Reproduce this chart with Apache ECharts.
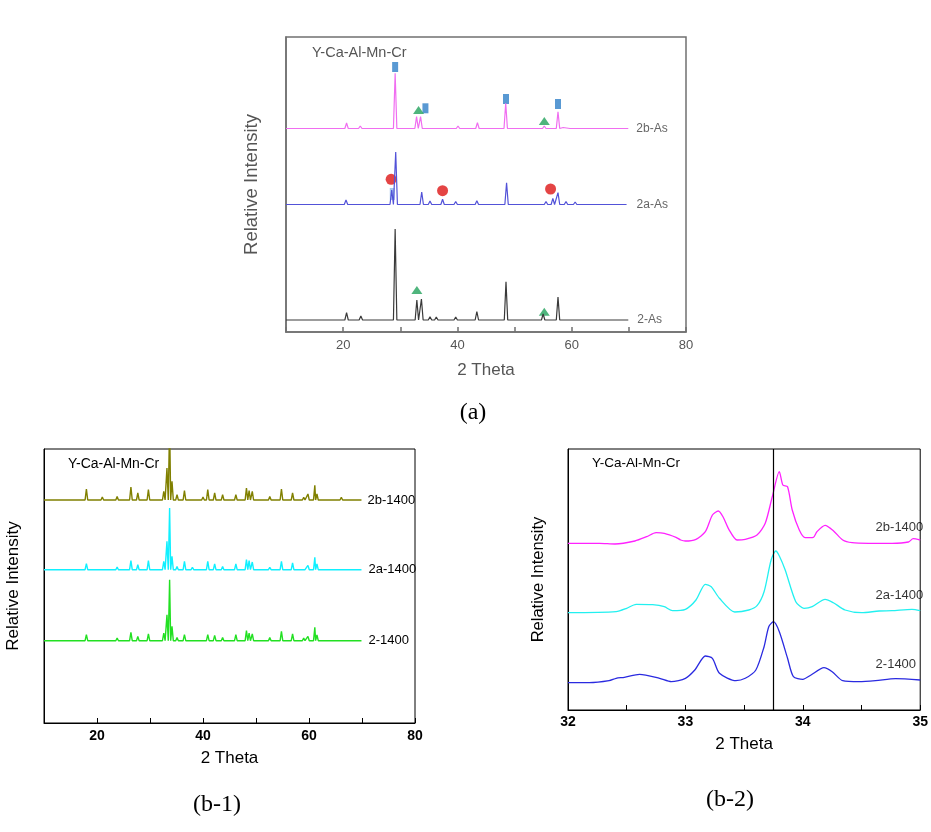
<!DOCTYPE html>
<html>
<head>
<meta charset="utf-8">
<script src="https://cdn.jsdelivr.net/npm/echarts@6/dist/echarts.min.js"></script>
<style>
html,body{margin:0;padding:0;background:#fff;}
#chart{width:931px;height:832px;}
</style>
</head>
<body>
<div id="chart"></div>
<script>
// ---------- Panel (a): peaks [2theta, intensity] ----------
const aBase = {"2-As": 12, "2a-As": 127.5, "2b-As": 203.5};
const a_2 = [[20.6,19.3],[23.1,16],[25.6,14],[29.1,103],[32.9,32],[33.7,33],[35.2,15.3],[36.3,15],[38.1,14],[39.7,15],[43.4,20.3],[48.5,50.3],[53.0,14],[55.0,18],[57.6,35],[59.1,14],[60.6,14],[62.6,14],[65.3,13.5],[67.2,13.5]];
const a_2a = [[20.5,132],[28.5,142],[29.2,180],[33.75,140],[35.2,131],[37.4,132.7],[39.7,130.5],[43.4,131.3],[48.6,149.3],[55.5,130.5],[56.7,133.7],[57.6,139.3],[59.0,130.5],[60.6,130]];
const a_2b = [[20.6,209],[23.0,206],[29.1,258.7],[32.85,215.3],[33.55,215.3],[36.0,205],[38.0,204.5],[40.1,206],[43.5,209.3],[48.45,228.7],[53.0,204.5],[55.2,206],[57.6,220.3],[58.5,204.5],[60.0,204.5],[65.0,204],[67.0,204.5]];
const aBoxes = [[29.1,265],[34.4,223.7],[48.5,233],[57.6,228]];
const aLightBoxes = [[28.6,138]];
const aTriangles = [[33.2,222],[55.2,211],[32.9,42],[55.2,20.3]];
const aCircles = [[28.4,152.7],[37.4,141.3],[56.3,143]];

// ---------- Panel (b-1): shared peak positions, heights per sample ----------
const b1Pos = [18.0,21.0,23.8,26.4,27.7,29.7,32.6,33.2,33.7,34.15,35.1,36.5,38.0,40.0,40.9,42.2,43.7,46.2,48.2,48.7,49.3,50.3,52.6,54.8,56.9,59.0,59.8,61.1,61.5,66.1];
const b1_2b = [234,226,226.6,236,230,233.3,231.6,255,300,241.6,228.3,232.3,225,226,233.3,230,228.3,228.3,235,232.3,231.6,225,226.6,234,230,225.6,229,237.6,229,225.6];
const b1_2a = [159.3,155,156,162.3,158.3,162.3,161.6,181.6,215,166.6,156.6,161.6,155.6,155,161.6,159,156.6,159,163.3,162.3,161,155,155.6,161.6,160,155,157.6,165.6,159,154.3];
const b1_2 = [88.3,84,85,90.6,86.6,89,90,108.3,143.3,96.6,85.6,88.3,83.3,83,88.3,87.6,85.6,88.3,92.3,90,89,83,85.6,91.6,89,85,86.6,95.6,88,83.3];
const b1Base = {"2b-1400": 223, "2a-1400": 153.3, "2-1400": 82.3};

// ---------- Panel (b-2): measured profile [2theta, intensity] ----------
const b2_2b = [[32.00,166.7],[32.27,166.7],[32.40,166.0],[32.57,169.0],[32.67,173.3],[32.75,177.3],[32.82,176.7],[32.92,172.7],[32.96,170.0],[33.00,169.0],[33.09,170.7],[33.17,178.3],[33.23,195.0],[33.28,199.0],[33.32,193.3],[33.37,180.7],[33.44,170.0],[33.51,170.7],[33.61,175.0],[33.68,186.7],[33.74,213.3],[33.80,238.3],[33.83,225.0],[33.87,223.3],[33.91,200.0],[33.97,180.0],[34.02,172.3],[34.09,172.7],[34.12,178.3],[34.19,184.7],[34.26,179.3],[34.34,170.0],[34.42,167.3],[34.56,166.7],[34.76,166.7],[34.90,168.0],[34.94,171.3],[35.00,170.0]];
const b2_2a = [[32.00,97.3],[32.41,98.3],[32.50,101.7],[32.58,105.7],[32.72,105.3],[32.82,103.3],[32.89,99.3],[33.00,100.7],[33.09,110.0],[33.17,125.7],[33.22,123.3],[33.29,111.7],[33.42,98.0],[33.54,100.0],[33.61,104.3],[33.67,118.3],[33.73,150.0],[33.77,159.0],[33.80,154.0],[33.85,140.0],[33.94,108.3],[34.01,101.7],[34.08,103.3],[34.19,110.7],[34.26,107.3],[34.36,100.0],[34.50,97.3],[34.65,99.0],[34.76,99.3],[34.93,100.7],[35.00,99.3]];
const b2_2 = [[32.00,27.3],[32.18,27.3],[32.35,29.3],[32.41,31.7],[32.48,32.7],[32.61,35.7],[32.78,31.7],[32.88,28.3],[33.00,31.7],[33.08,40.0],[33.17,54.0],[33.23,51.7],[33.29,36.7],[33.43,29.3],[33.51,31.7],[33.60,40.0],[33.67,63.3],[33.71,83.3],[33.75,88.3],[33.80,78.3],[33.87,51.7],[33.92,33.3],[34.00,30.7],[34.07,35.0],[34.18,42.3],[34.25,38.3],[34.34,29.3],[34.48,28.3],[34.62,29.3],[34.79,31.3],[35.00,30.0]];
const b2Labels = [[34.62,183,"2b-1400"],[34.62,115,"2a-1400"],[34.62,46,"2-1400"]];
const b2RefLine = 33.75;

// ---------- helpers ----------
function spectrum(base, peaks, hw, x0, x1) {
  const pts = [[x0, base]];
  peaks.forEach(p => { pts.push([p[0]-hw, base]); pts.push([p[0], p[1]]); pts.push([p[0]+hw, base]); });
  pts.push([x1, base]);
  pts.sort((u, v) => u[0] - v[0]);
  return pts;
}
const zip = (pos, h) => pos.map((p, i) => [p, h[i]]);

const FONT = "'Liberation Sans', Arial, sans-serif";

function xAx(grid, min, max, interval, fmt, opts) {
  return {
    gridIndex: grid, type: 'value', min: min, max: max, interval: interval,
    axisLine: {show: true, onZero: false, lineStyle: {color: opts.color, width: opts.width}},
    axisTick: {show: true, inside: true, length: 5, lineStyle: {color: opts.color, width: opts.width}},
    axisLabel: {formatter: fmt, margin: opts.margin, fontSize: opts.tickSize, fontWeight: opts.tickWeight, color: opts.textColor, fontFamily: FONT},
    splitLine: {show: false},
    name: '2 Theta', nameLocation: 'middle', nameGap: opts.nameGap,
    nameTextStyle: {fontSize: 17, color: opts.textColor, fontFamily: FONT}
  };
}
function yAx(grid, max, opts) {
  return {
    gridIndex: grid, type: 'value', min: 0, max: max,
    axisLine: {show: true, lineStyle: {color: opts.color, width: opts.width}},
    axisTick: {show: false}, axisLabel: {show: false}, splitLine: {show: false},
    name: 'Relative Intensity', nameLocation: 'middle', nameGap: opts.nameGap,
    nameTextStyle: {fontSize: opts.nameSize, color: opts.textColor, fontFamily: FONT}
  };
}
function lineS(name, grid, data, color, width, endLabel, lblColor, lblSize, dist) {
  const s = {
    name: name, type: 'line', xAxisIndex: grid, yAxisIndex: grid, data: data,
    showSymbol: false, symbol: 'none', clip: true,
    lineStyle: {color: color, width: width}, itemStyle: {color: color}
  };
  if (endLabel) s.endLabel = {show: true, formatter: name, color: lblColor, fontSize: lblSize, fontFamily: FONT, distance: dist};
  return s;
}

const aOpts = {color: '#707070', width: 1.5, textColor: '#555', margin: 7, tickSize: 13, tickWeight: 'normal', nameGap: 30, nameSize: 18.5};
const bOpts = {color: '#000', width: 1, textColor: '#000', margin: 6, tickSize: 14, tickWeight: 'bold', nameGap: 27, nameSize: 17};

const option = {
  animation: false,
  backgroundColor: '#fff',
  textStyle: {fontFamily: FONT},
  grid: [
    {left: 286, top: 37, width: 400, height: 295, show: true, borderColor: '#707070', borderWidth: 1.5},
    {left: 44, top: 449, width: 371, height: 274, show: true, borderColor: '#000', borderWidth: 1},
    {left: 568, top: 449, width: 353.5, height: 261, show: true, borderColor: '#000', borderWidth: 1}
  ],
  xAxis: [
    xAx(0, 10, 80, 10, v => (v % 20 === 0 ? String(v) : ''), Object.assign({}, aOpts, {nameGap: 30})),
    xAx(1, 10, 80, 10, v => (v % 20 === 0 ? String(v) : ''), Object.assign({}, bOpts, {nameGap: 27})),
    xAx(2, 32, 35, 0.5, v => (Math.abs(v - Math.round(v)) < 1e-6 ? String(Math.round(v)) : ''), Object.assign({}, bOpts, {nameGap: 26, margin: 5}))
  ],
  yAxis: [
    yAx(0, 295, Object.assign({}, aOpts, {nameGap: 25})),
    yAx(1, 274, Object.assign({}, bOpts, {nameGap: 22})),
    yAx(2, 261, Object.assign({}, bOpts, {nameGap: 21, nameSize: 16.5}))
  ],
  series: [
    lineS('2b-As', 0, spectrum(aBase['2b-As'], a_2b, 0.3, 10, 69.9), '#f06ef0', 1.2, true, '#666', 12, 8),
    lineS('2a-As', 0, spectrum(aBase['2a-As'], a_2a, 0.3, 10, 69.6), '#5252d8', 1.2, true, '#666', 12, 10),
    lineS('2-As', 0, spectrum(aBase['2-As'], a_2, 0.3, 10, 69.9), '#3a3a3a', 1.2, true, '#666', 12, 9),
    {type: 'scatter', xAxisIndex: 0, yAxisIndex: 0, data: aLightBoxes, symbol: 'rect', symbolSize: [5, 12], itemStyle: {color: '#8fb8e8'}},
    {type: 'scatter', xAxisIndex: 0, yAxisIndex: 0, data: aBoxes, symbol: 'rect', symbolSize: [6, 10], itemStyle: {color: '#2f7fc8'}},
    {type: 'scatter', xAxisIndex: 0, yAxisIndex: 0, data: aTriangles, symbol: 'triangle', symbolSize: [11, 8], itemStyle: {color: '#23a35c'}},
    {type: 'scatter', xAxisIndex: 0, yAxisIndex: 0, data: aCircles, symbol: 'circle', symbolSize: 11, itemStyle: {color: '#dd1515'}},

    lineS('2b-1400', 1, spectrum(b1Base['2b-1400'], zip(b1Pos, b1_2b), 0.25, 10, 69.9), '#808000', 1.4, true, '#000', 13, 6),
    lineS('2a-1400', 1, spectrum(b1Base['2a-1400'], zip(b1Pos, b1_2a), 0.25, 10, 69.9), '#10f0ff', 1.4, true, '#000', 13, 7),
    lineS('2-1400', 1, spectrum(b1Base['2-1400'], zip(b1Pos, b1_2), 0.25, 10, 69.9), '#22e022', 1.4, true, '#000', 13, 7),

    Object.assign(lineS('2b-1400', 2, b2_2b, '#ff22ff', 1.3, false), {smooth: 0.25}),
    Object.assign(lineS('2a-1400', 2, b2_2a, '#22f0f0', 1.3, false), {smooth: 0.25}),
    Object.assign(lineS('2-1400', 2, b2_2, '#2a2ae0', 1.3, false), {
      smooth: 0.25,
      markLine: {silent: true, symbol: ['none', 'none'], label: {show: false},
        lineStyle: {color: '#000', width: 1.2, type: 'solid'}, data: [{xAxis: b2RefLine}]}
    }),
    {type: 'scatter', xAxisIndex: 2, yAxisIndex: 2, symbolSize: 0.01,
     data: b2Labels.map(d => ({value: [d[0], d[1]], name: d[2]})),
     label: {show: true, position: 'right', distance: 0, formatter: p => p.name, color: '#000', fontSize: 13, fontFamily: FONT}}
  ],
  graphic: [
    {type: 'text', x: 312, y: 53, style: {text: 'Y-Ca-Al-Mn-Cr', font: "14.5px " + FONT, fill: '#555', textVerticalAlign: 'middle'}},
    {type: 'text', x: 68, y: 464, style: {text: 'Y-Ca-Al-Mn-Cr', font: "14px " + FONT, fill: '#000', textVerticalAlign: 'middle'}},
    {type: 'text', x: 592, y: 463, style: {text: 'Y-Ca-Al-Mn-Cr', font: "13.5px " + FONT, fill: '#000', textVerticalAlign: 'middle'}},
    {type: 'text', x: 473, y: 413, style: {text: '(a)', font: "24px 'Liberation Serif', 'Times New Roman', serif", fill: '#000', textAlign: 'center', textVerticalAlign: 'middle'}},
    {type: 'text', x: 217, y: 805, style: {text: '(b-1)', font: "24px 'Liberation Serif', 'Times New Roman', serif", fill: '#000', textAlign: 'center', textVerticalAlign: 'middle'}},
    {type: 'text', x: 730, y: 800, style: {text: '(b-2)', font: "24px 'Liberation Serif', 'Times New Roman', serif", fill: '#000', textAlign: 'center', textVerticalAlign: 'middle'}}
  ]
};

const chart = echarts.init(document.getElementById('chart'), null, {renderer: 'canvas'});
chart.setOption(option);
</script>
</body>
</html>
